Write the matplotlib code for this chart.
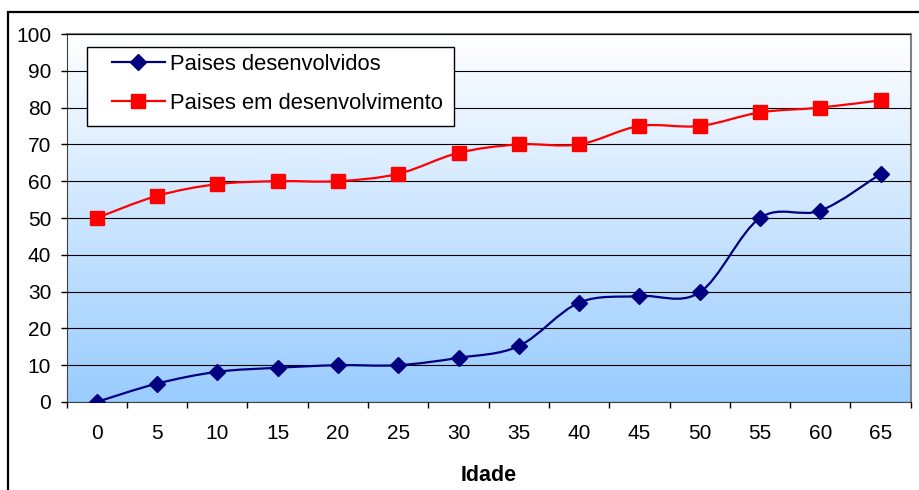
import numpy as np
import matplotlib.pyplot as plt
from matplotlib.path import Path
from matplotlib.patches import PathPatch, Rectangle
from matplotlib.lines import Line2D

plt.rcParams['font.family'] = ['Liberation Sans', 'DejaVu Sans']

idade = [0, 5, 10, 15, 20, 25, 30, 35, 40, 45, 50, 55, 60, 65]
desenvolvidos = [0, 5, 8.2, 9.3, 10, 10, 12, 15.2, 27, 28.8, 29.8, 50, 52, 62]
em_desenvolvimento = [50, 56, 59.2, 60, 60, 62, 67.7, 70, 70, 75, 75, 78.7, 80, 82]

navy = '#000080'
red = '#FF0000'


def smooth_path(x, y):
    # cubic bezier through every point (catmull-rom style, like a spreadsheet "smoothed line")
    pts = np.column_stack([x, y]).astype(float)
    n = len(pts)
    verts = [pts[0]]
    codes = [Path.MOVETO]
    for i in range(n - 1):
        p0 = pts[i - 1] if i > 0 else pts[i]
        p1 = pts[i]
        p2 = pts[i + 1]
        p3 = pts[i + 2] if i + 2 < n else pts[i + 1]
        verts += [p1 + (p2 - p0) / 6, p2 - (p3 - p1) / 6, p2]
        codes += [Path.CURVE4] * 3
    return Path(verts, codes)


fig = plt.figure(figsize=(9.2, 4.9), dpi=100)
ax = fig.add_axes([0.0723, 0.1796, 0.9177, 0.751])

pos = np.arange(len(idade))
ax.set_xlim(-0.5, len(idade) - 0.5)
ax.set_ylim(0, 100)

# white-to-blue background of the plot area
t = np.linspace(0, 1, 256)[:, None]
top = np.array([1.0, 1.0, 1.0])
bottom = np.array([0.6, 0.8, 1.0])
grad = (top * (1 - t) + bottom * t)[:, None, :]
ax.imshow(grad, extent=(-0.5, len(idade) - 0.5, 0, 100), aspect='auto',
          origin='upper', zorder=0)

ax.set_yticks(range(0, 101, 10))
ax.yaxis.grid(True, color='black', lw=0.8, zorder=1)
ax.set_axisbelow(False)

for vals, color, marker, ms in [(desenvolvidos, navy, 'D', 8.5),
                                (em_desenvolvimento, red, 's', 9.5)]:
    ax.add_patch(PathPatch(smooth_path(pos, vals), fill=False, ec=color,
                           lw=1.6, zorder=3))
    ax.plot(pos, vals, ls='none', marker=marker, ms=ms, color=color,
            mec=color, zorder=4)

ax.set_xticks(pos)
ax.set_xticklabels([str(v) for v in idade])
ax.set_xticks(np.arange(-0.5, len(idade)), minor=True)
ax.tick_params(axis='x', which='major', length=0, pad=16, labelsize=15)
ax.tick_params(axis='x', which='minor', length=4, width=1, direction='out')
ax.tick_params(axis='y', length=4, width=1, direction='out', pad=7, labelsize=15)
ax.set_xlabel('Idade', fontsize=15.5, fontweight='bold', labelpad=16)

for side in ['left', 'bottom']:
    ax.spines[side].set_color('#404040')
for side in ['top', 'right']:
    ax.spines[side].set_color('#808080')
    ax.spines[side].set_linewidth(1.5)

# legend box: white frame drawn separately, entries placed inside it
ax.add_patch(Rectangle((0.0243, 0.7500), 0.4346, 0.2147, transform=ax.transAxes,
                       fc='white', ec='black', lw=1, zorder=5))
handles = [Line2D([], [], color=navy, lw=1.6, marker='D', ms=8.5),
           Line2D([], [], color=red, lw=1.6, marker='s', ms=9.5)]
leg = ax.legend(handles, ['Paises desenvolvidos', 'Paises em desenvolvimento'],
                loc='upper left', bbox_to_anchor=(0.054, 0.947), fontsize=15.8,
                frameon=False, handlelength=2.4, handletextpad=0.25,
                labelspacing=0.85, borderpad=0, borderaxespad=0)
leg.set_zorder(6)

# outer chart border (runs off the right and bottom edges)
fig.add_artist(Rectangle((8 / 920, -0.1), 1.2, 1 - 12 / 490 + 0.1,
                         transform=fig.transFigure, fill=False, ec='black', lw=1.6))

fig.savefig('out.png', dpi=100)
